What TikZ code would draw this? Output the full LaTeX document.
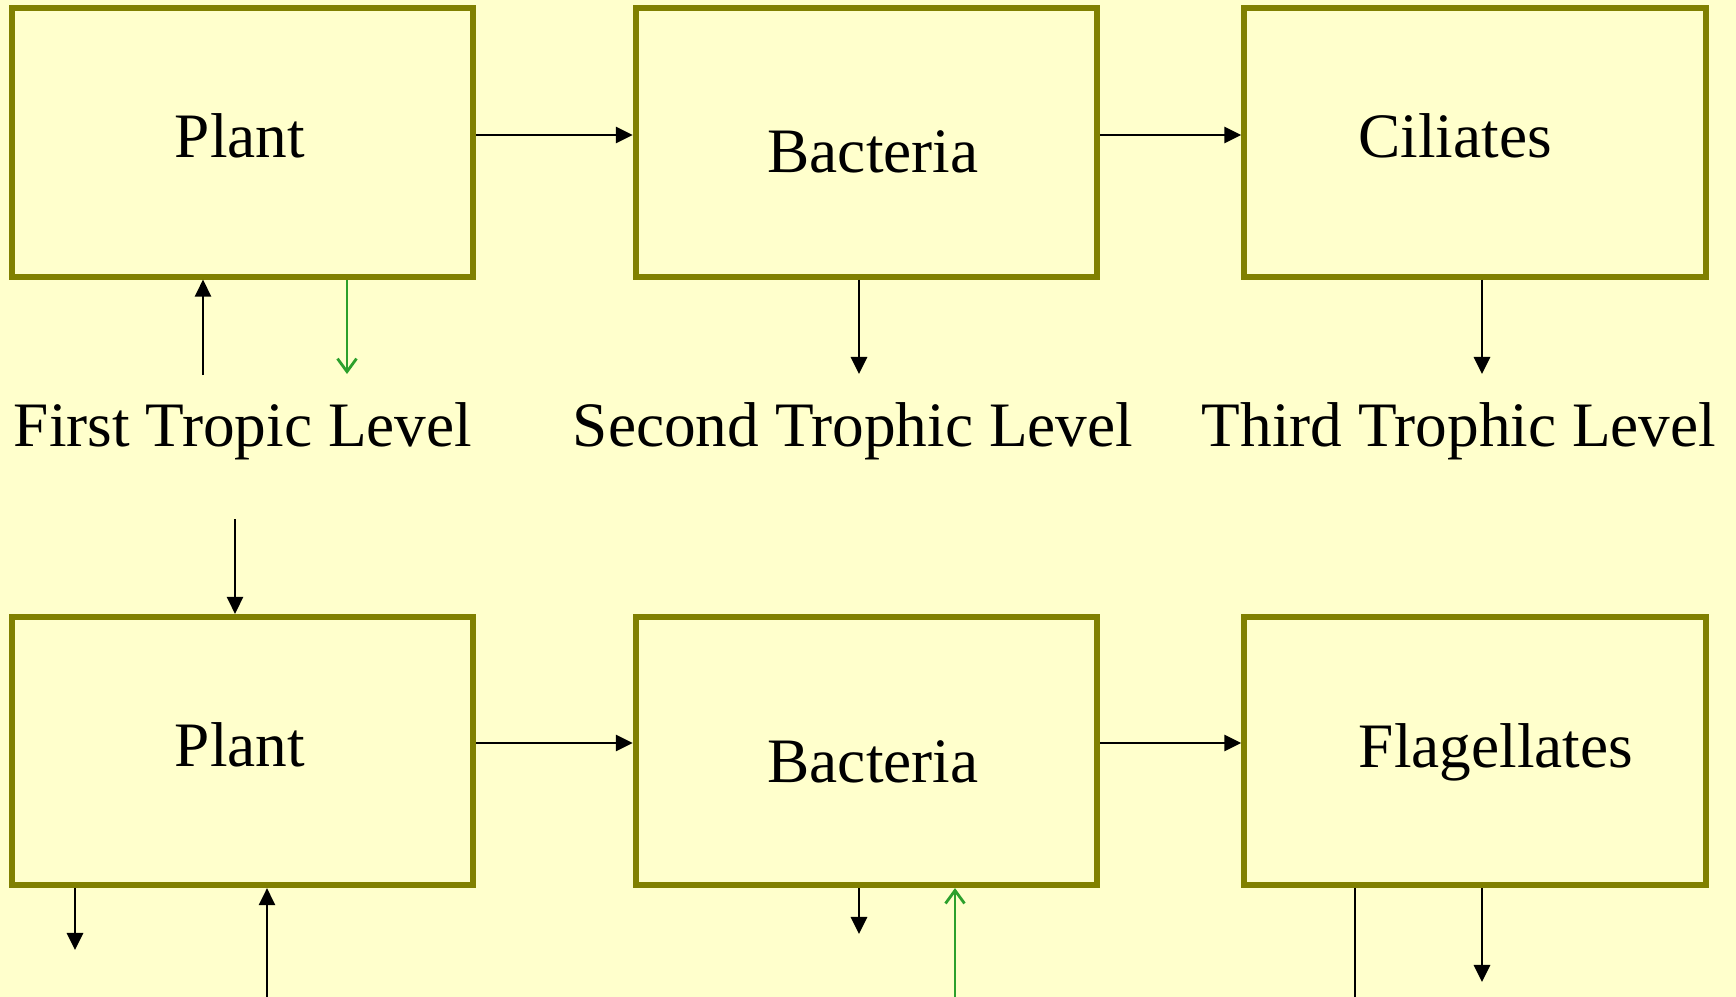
\documentclass[tikz,border=0pt]{standalone}
\usepackage{fontspec}
\setmainfont{Liberation Serif}
\usetikzlibrary{arrows.meta}
\definecolor{bg}{HTML}{FFFFCC}
\definecolor{olivebox}{HTML}{808000}
\definecolor{grn}{HTML}{2CA02C}
\begin{document}
\begin{tikzpicture}[x=0.01cm,y=-0.01cm,
  box/.style={draw=olivebox,fill=bg,line width=0.06cm,minimum width=4.61cm,minimum height=2.68cm,inner sep=0pt},
  txt/.style={font=\fontsize{18}{20}\selectfont,anchor=base,inner sep=0pt},
  arr/.style={line width=0.028cm,-{Triangle[length=0.17cm,width=0.16cm]}},
  garr/.style={draw=grn,line width=0.028cm,-{Straight Barb[length=0.13cm,width=0.19cm,line width=0.028cm]}},
  plain/.style={line width=0.028cm}]
\fill[bg] (0,0) rectangle (1736,997);
\useasboundingbox (0,0) rectangle (1736,997);
% boxes
\node[box] (P1) at (242.5,142.5) {};
\node[box] (B1) at (866.5,142.5) {};
\node[box] (C1) at (1475,142.5) {};
\node[box] (P2) at (242.5,751) {};
\node[box] (B2) at (866.5,751) {};
\node[box] (F2) at (1475,751) {};
% box texts
\node[txt] (tP1) at (240,158) {Plant};
\node[txt] (tB1) at (873,173) {Bacteria};
\node[txt] (tC1) at (1455,158) {Ciliates};
\node[txt] (tP2) at (240,766) {Plant};
\node[txt] (tB2) at (873,782) {Bacteria};
\node[txt] (tF2) at (1496,767) {Flagellates};
% level labels
\node[txt] (L1) at (243,446) {First Tropic Level};
\node[txt] (L2) at (853,446) {Second Trophic Level};
\node[txt] (L3) at (1459,446) {Third Trophic Level};
% free ends
\coordinate (a1) at (203,375);
\coordinate (g1) at (347,374);
\coordinate (b1) at (859,374);
\coordinate (c1) at (1482,374);
\coordinate (p2in) at (235,519);
\coordinate (p2d) at (75,950);
\coordinate (p2u) at (267,997);
\coordinate (b2d) at (859,934);
\coordinate (g2) at (955,997);
\coordinate (f2l) at (1355,997);
\coordinate (f2d) at (1482,982);
% row 1 connectors
\draw[arr] (P1.east |- 0,135) -- (B1.west |- 0,135);
\draw[arr] (B1.east |- 0,135) -- (C1.west |- 0,135);
\draw[arr] (a1) -- (P1.south -| a1);
\draw[garr] (P1.south -| g1) -- (g1);
\draw[arr] (B1.south -| b1) -- (b1);
\draw[arr] (C1.south -| c1) -- (c1);
% into row 2
\draw[arr] (p2in) -- (P2.north -| p2in);
% row 2 connectors
\draw[arr] (P2.east |- 0,743) -- (B2.west |- 0,743);
\draw[arr] (B2.east |- 0,743) -- (F2.west |- 0,743);
\draw[arr] (P2.south -| p2d) -- (p2d);
\draw[arr] (p2u) -- (P2.south -| p2u);
\draw[arr] (B2.south -| b2d) -- (b2d);
\draw[garr] (g2) -- (B2.south -| g2);
\draw[plain] (F2.south -| f2l) -- (f2l);
\draw[arr] (F2.south -| f2d) -- (f2d);
\end{tikzpicture}
\end{document}
